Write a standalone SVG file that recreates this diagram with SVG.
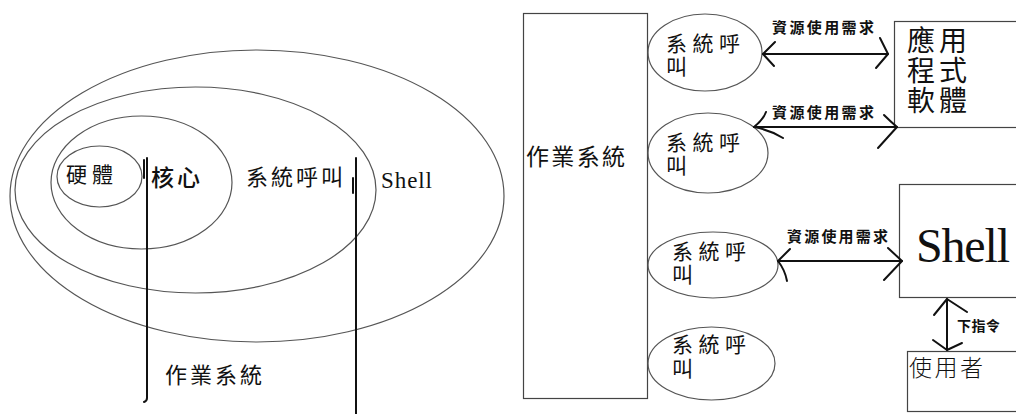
<svg xmlns="http://www.w3.org/2000/svg" width="1016" height="414" viewBox="0 0 1016 414">
<style>
.bg{fill:#fff}
.ell{fill:none;stroke:#555;stroke-width:1.2}
.box{fill:#fff;stroke:#444;stroke-width:1.2}
.ln{fill:none;stroke:#111;stroke-width:2;stroke-linecap:round;stroke-linejoin:round}
.cjk{font-family:"Noto Sans CJK TC","Noto Sans CJK SC",sans-serif;fill:#111}
.lbl{font-family:"Noto Sans CJK TC","Noto Sans CJK SC",sans-serif;font-weight:bold;fill:#111}
.ser{font-family:"Liberation Serif",serif;fill:#111}
</style>
<rect class="bg" width="1016" height="414"/>

<!-- Left: nested ellipses -->
<g id="shell-layer">
<ellipse class="ell" cx="257" cy="196" rx="247" ry="146"/>
<text class="ser" x="381" y="188" font-size="23" textLength="51">Shell</text>
</g>
<g id="syscall-layer">
<ellipse class="ell" cx="195.5" cy="190" rx="180.5" ry="103"/>
<text class="cjk" x="246" y="185" font-size="22" textLength="97">系統呼叫</text>
</g>
<g id="kernel-layer">
<ellipse class="ell" cx="141.5" cy="182.5" rx="90.5" ry="66.5"/>
<text class="cjk" x="151" y="186" font-size="23" textLength="49" font-weight="500">核心</text>
</g>
<g id="hardware">
<ellipse class="ell" cx="99.5" cy="176.5" rx="42.5" ry="30.5"/>
<text class="cjk" x="66" y="182" font-size="21" textLength="47">硬體</text>
</g>
<g id="os-bracket">
<path class="ln" d="M147 158 L147 398 Q147 401 144 402"/>
<path class="ln" d="M144 160 L144 178"/>
<path class="ln" d="M356 158 L356 414"/>
<path class="ln" d="M353 178 L353 193"/>
<text class="cjk" x="165" y="383" font-size="22" textLength="97">作業系統</text>
</g>

<!-- Right: OS and system calls -->
<g id="os">
<rect class="box" x="523.5" y="13.5" width="124" height="385"/>
<text class="cjk" x="526" y="165" font-size="23" textLength="99">作業系統</text>
</g>
<g id="syscall1">
<ellipse class="ell" cx="705" cy="52.5" rx="57" ry="38.5"/>
<text class="cjk" font-size="21"><tspan x="666" y="51" textLength="74">系統呼</tspan><tspan x="666" y="74">叫</tspan></text>
</g>
<g id="syscall2">
<ellipse class="ell" cx="708" cy="153" rx="60" ry="40"/>
<text class="cjk" font-size="21"><tspan x="666" y="150" textLength="74">系統呼</tspan><tspan x="666" y="173">叫</tspan></text>
</g>
<g id="syscall3">
<ellipse class="ell" cx="713" cy="265" rx="65" ry="33"/>
<text class="cjk" font-size="21"><tspan x="672" y="259" textLength="74">系統呼</tspan><tspan x="672" y="282">叫</tspan></text>
</g>
<g id="syscall4">
<ellipse class="ell" cx="711.5" cy="363.5" rx="63.5" ry="36.5"/>
<text class="cjk" font-size="21"><tspan x="672" y="352" textLength="74">系統呼</tspan><tspan x="672" y="376">叫</tspan></text>
</g>
<g id="app">
<rect class="box" x="894.5" y="21.5" width="130" height="106"/>
<text class="cjk" font-size="28"><tspan x="907" y="51" textLength="60">應用</tspan><tspan x="907" y="81" textLength="60">程式</tspan><tspan x="907" y="111" textLength="60">軟體</tspan></text>
</g>
<g id="shell">
<rect class="box" x="899.5" y="184.5" width="130" height="113"/>
<text class="ser" x="916" y="262" font-size="48" textLength="94">Shell</text>
</g>
<g id="user">
<rect class="box" x="907.5" y="351.5" width="120" height="60"/>
<text class="cjk" x="909" y="376" font-size="23" textLength="74" font-weight="300">使用者</text>
</g>

<!-- Connectors -->
<g id="connectors">
<path class="ln" d="M763 54 L888 54"/>
<path class="ln" d="M775 42 L763 54 L774 66"/>
<path class="ln" d="M880 38 Q884 46 888 54 L876 68"/>
<text class="lbl" x="772" y="33" font-size="15" textLength="102">資源使用需求</text>

<path class="ln" d="M754 127 L897 127"/>
<path class="ln" d="M766 112 Q763 120 754 127 Q770 130 783 138"/>
<path class="ln" d="M884 115 Q890 121 897 127 L878 148"/>
<text class="lbl" x="772" y="118" font-size="15" textLength="102">資源使用需求</text>

<path class="ln" d="M778 261 L902 261"/>
<path class="ln" d="M790 249 L778 261 Q785 270 787 281"/>
<path class="ln" d="M888 248 L902 261 L884 280"/>
<text class="lbl" x="787" y="242" font-size="15" textLength="101">資源使用需求</text>

<path class="ln" d="M947 299 L947 350"/>
<path class="ln" d="M934 315 L947 299 L967 312"/>
<path class="ln" d="M933 340 L947 350 L962 343"/>
<text class="lbl" x="957" y="331" font-size="14" textLength="43">下指令</text>
</g>
</svg>
